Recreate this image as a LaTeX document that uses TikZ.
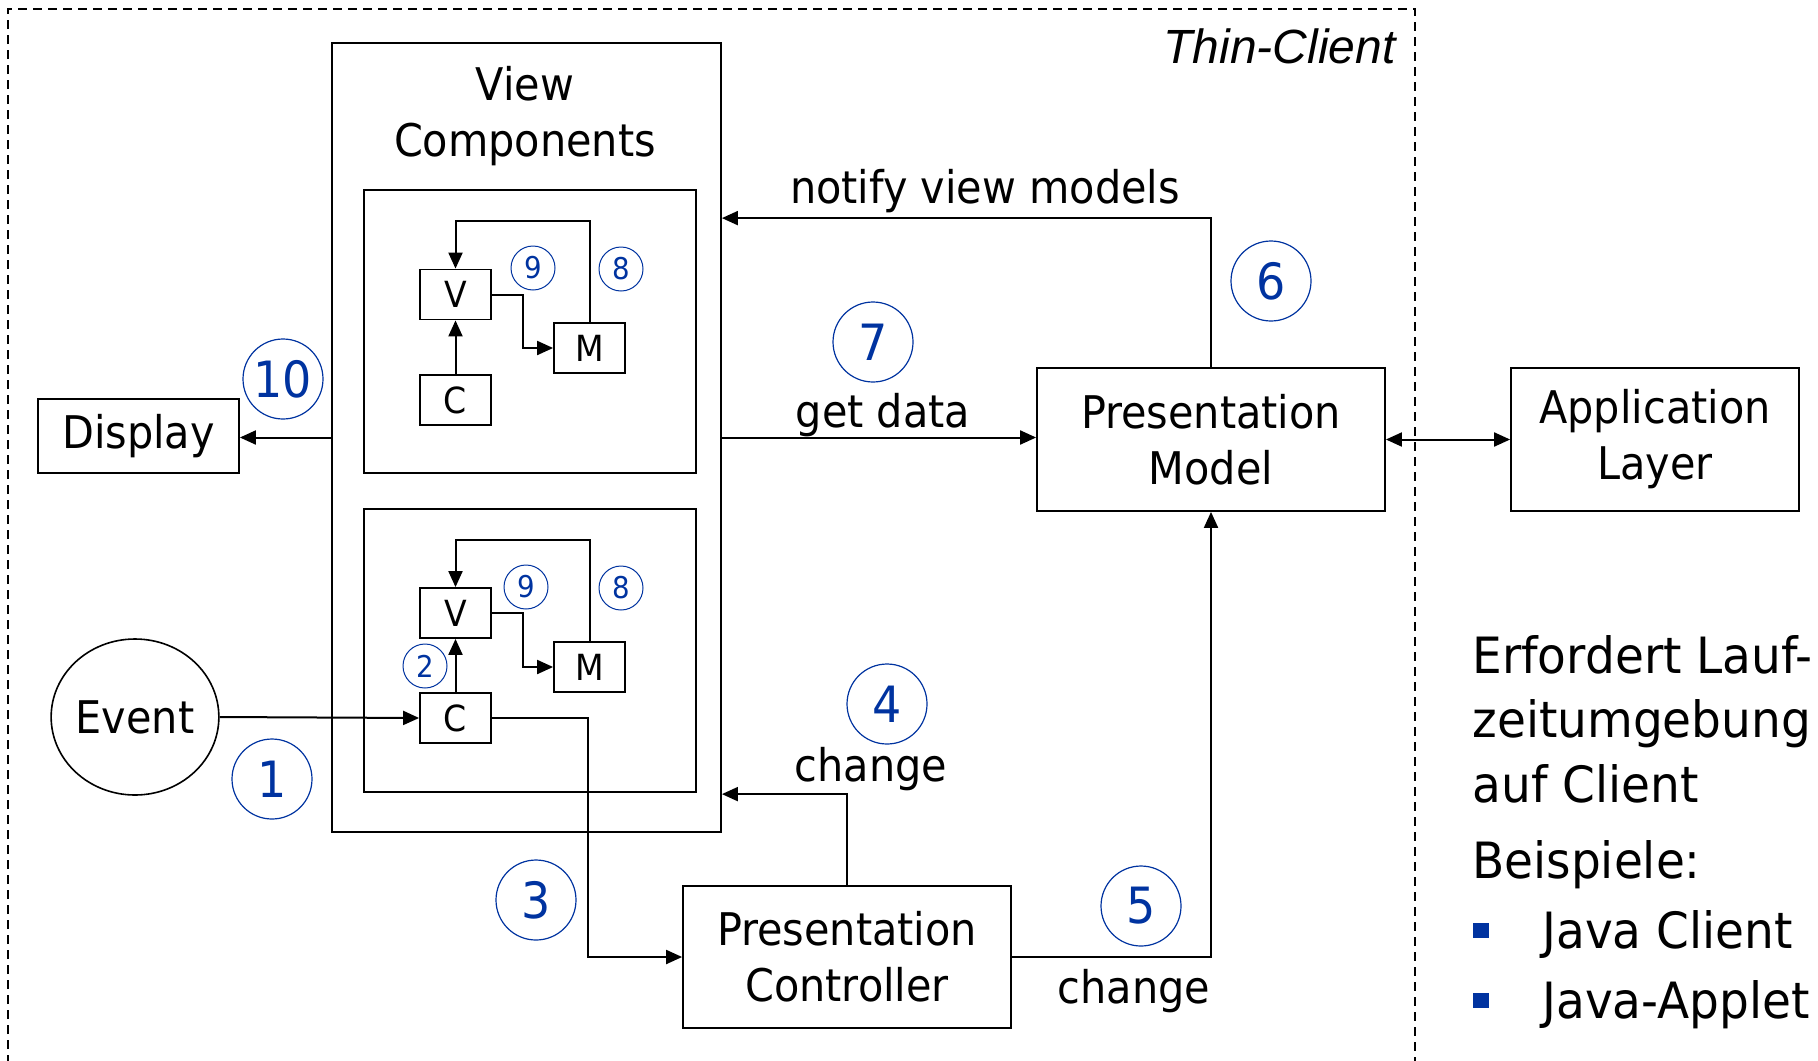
\documentclass[tikz,border=0pt]{standalone}
\usepackage{fontspec}
\setmainfont{DejaVu Sans}[FakeStretch=0.92]
\newfontfamily\sidefont{DejaVu Sans}[FakeStretch=0.94]
\newfontfamily\titlefont{Liberation Sans}
\usetikzlibrary{arrows.meta,shapes.geometric}
\definecolor{numblue}{HTML}{0033A0}

\tikzset{
  mainfont/.style={font=\fontsize{22.5}{28}\selectfont},
  box/.style={draw, line width=0.9pt, inner sep=0pt, align=center, mainfont},
  mvc/.style={draw, line width=0.9pt, inner sep=0pt, minimum width=35.5pt, minimum height=25pt,
              font=\fontsize{18}{22}\selectfont},
  conn/.style={line width=1pt, -{Triangle[length=8pt,width=7pt]}},
  biconn/.style={line width=1pt, {Triangle[length=8pt,width=7pt]}-{Triangle[length=8pt,width=7pt]}},
  bignum/.style={circle, draw=numblue, text=numblue, line width=0.6pt, minimum size=40pt,
                 inner sep=0pt, font=\fontsize{25}{25}\selectfont},
  smallnum/.style={circle, draw=numblue, text=numblue, line width=0.5pt, minimum size=22pt,
                   inner sep=0pt, font=\fontsize{15}{15}\selectfont},
  lbl/.style={anchor=base, inner sep=0pt, mainfont},
  side/.style={anchor=base west, inner sep=0pt, font=\sidefont\fontsize{25}{30}\selectfont},
}

\begin{document}
\begin{tikzpicture}[x=0.5pt, y=-0.5pt]
  \useasboundingbox (0,0) rectangle (1818,1060);

  % client boundary (open at the bottom)
  \draw[line width=1pt, dash pattern=on 4.5pt off 3pt] (8,1064) -- (8,9) -- (1415,9) -- (1415,1064);
  \node[anchor=base east, inner sep=0pt, font=\titlefont\itshape\fontsize{24}{24}\selectfont]
    (thin) at (1396,63) {Thin-Client};

  % view components container
  \node[box, minimum width=194.5pt, minimum height=394.5pt] (vc) at (526.5,437.5) {};
  \node[lbl] (vct1) at (525,100) {View};
  \node[lbl] (vct2) at (525,156) {Components};

  % upper view component
  \node[box, minimum width=166pt, minimum height=141.5pt] (inU) at (530,331.5) {};
  \node[mvc] (vU) at (455.5,294.5) {V};
  \node[mvc] (mU) at (589.5,348) {M};
  \node[mvc] (cU) at (455.5,400) {C};
  \draw[conn] (mU.north) -- ++(0,-101) -| (vU.north);
  \draw[conn] (vU.east) -- ++(31,0) |- (mU.west);
  \draw[conn] (cU.north) -- (vU.south);
  \node[smallnum] (n9u) at (533,268) {9};
  \node[smallnum] (n8u) at (621,269) {8};

  % lower view component
  \node[box, minimum width=166pt, minimum height=141.5pt] (inL) at (530,650.5) {};
  \node[mvc] (vL) at (455.5,613) {V};
  \node[mvc] (mL) at (589.5,667) {M};
  \node[mvc] (cL) at (455.5,718) {C};
  \draw[conn] (mL.north) -- ++(0,-101) -| (vL.north);
  \draw[conn] (vL.east) -- ++(31,0) |- (mL.west);
  \draw[conn] (cL.north) -- (vL.south);
  \node[smallnum] (n9l) at (526,587) {9};
  \node[smallnum] (n8l) at (621,588) {8};
  \node[smallnum] (n2) at (425,666) {2};

  % outer components
  \node[box, minimum width=100.5pt, minimum height=37pt] (disp) at (138.5,436) {Display};
  \node[draw, ellipse, line width=0.8pt, minimum width=83pt, minimum height=78pt, inner sep=0pt,
        mainfont] (ev) at (135,717) {Event};
  \node[box, minimum width=174pt, minimum height=71.5pt] (pm) at (1211,439.5) {Presentation\\Model};
  \node[box, minimum width=144pt, minimum height=71.5pt] (al) at (1655,439.5) {Application\\Layer};
  \node[box, minimum width=164pt, minimum height=71pt] (pc) at (847,957) {Presentation\\Controller};

  % connectors
  \draw[conn] (vc.west) -- (vc.west -| disp.east);
  \draw[conn] (ev.east) -- (cL.west);
  \draw[conn] (cL.east) -- ++(96,0) |- (pc.west);
  \draw[conn] (pc.north) -- ++(0,-91) coordinate (k4) -- (k4 -| vc.east);
  \draw[conn] (pc.east) -| (pm.south);
  \draw[conn] (pm.north) -- ++(0,-149) coordinate (k6) -- (k6 -| vc.east);
  \draw[conn] (vc.east) -- (vc.east -| pm.west);
  \draw[biconn] (pm.east) -- (al.west);

  % connector labels
  \node[lbl] (tnotify) at (985,203) {notify view models};
  \node[lbl] (tget) at (883,427) {get data};
  \node[lbl] (tch4) at (871,781) {change};
  \node[lbl] (tch5) at (1134,1003) {change};

  % step numbers
  \node[bignum] (s1) at (272,779) {1};
  \node[bignum] (s3) at (536,900) {3};
  \node[bignum] (s4) at (887,704) {4};
  \node[bignum] (s5) at (1141,906) {5};
  \node[bignum] (s6) at (1271,281) {6};
  \node[bignum] (s7) at (873,342) {7};
  \node[bignum] (s10) at (283,379) {10};

  % side notes
  \node[side] (r1) at (1472,673) {Erfordert Lauf-};
  \node[side] (r2) at (1472,737) {zeitumgebung};
  \node[side] (r3) at (1472,802) {auf Client};
  \node[side] (r4) at (1472,878) {Beispiele:};
  \node[side] (r5) at (1542,948) {Java Client};
  \node[side] (r6) at (1542,1018) {Java-Applet};
  \fill[numblue] (1473,923) rectangle (1489,938);
  \fill[numblue] (1473,993) rectangle (1489,1008);
\end{tikzpicture}
\end{document}
